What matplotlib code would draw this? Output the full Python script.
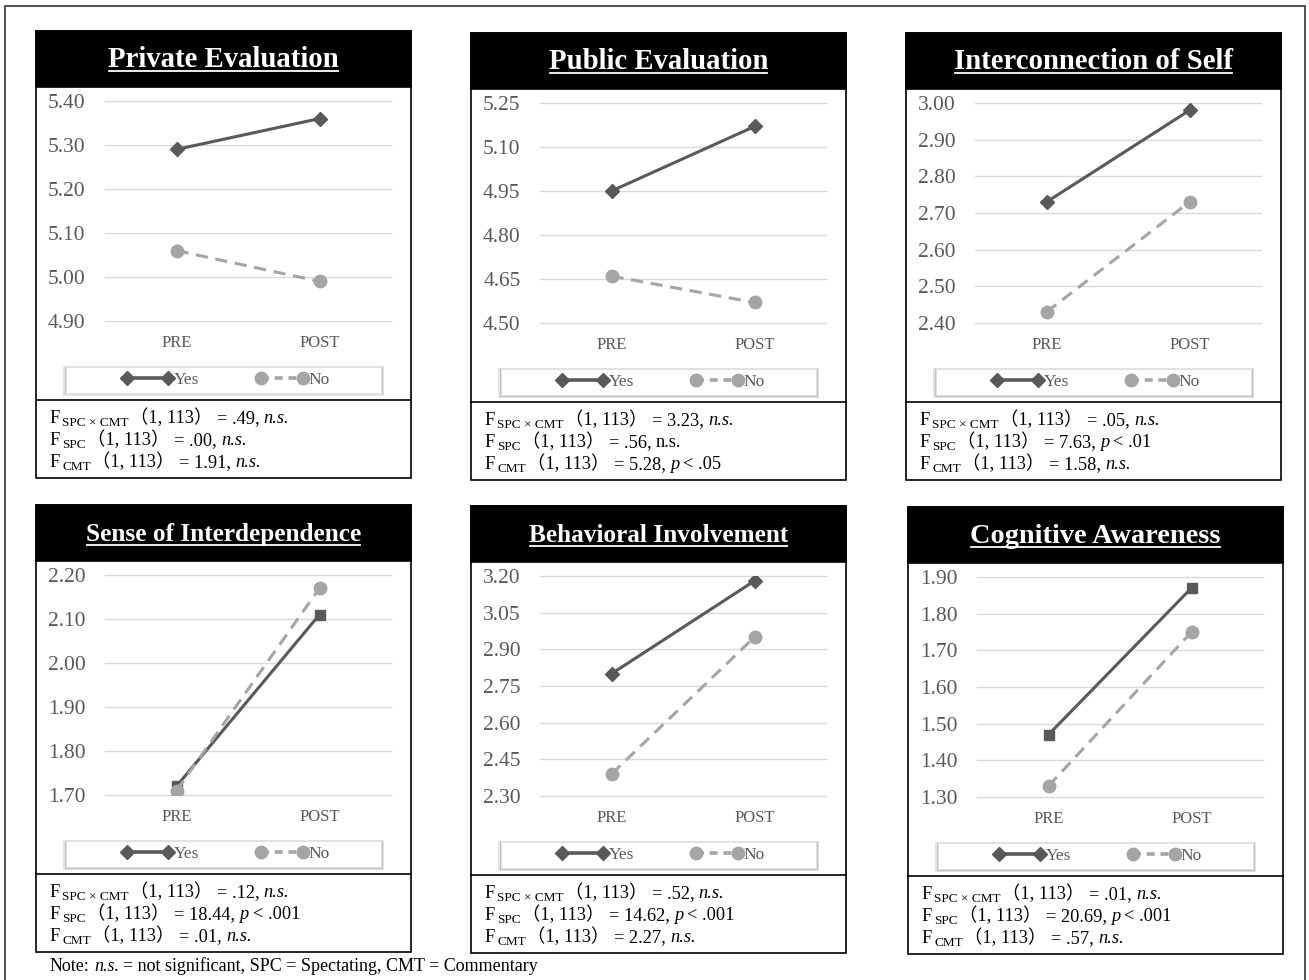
import matplotlib
matplotlib.use("Agg")
import matplotlib.pyplot as plt
from matplotlib.patches import Rectangle
from matplotlib.lines import Line2D
import numpy as np

TITLES = ["Private Evaluation", "Public Evaluation", "Interconnection of Self",
          "Sense of Interdependence", "Behavioral Involvement", "Cognitive Awareness"]
PHASES = ["PRE", "POST"]
GROUPS = ["Yes", "No"]
YES = [[5.29, 5.36], [4.95, 5.17], [2.73, 2.98],
       [1.72, 2.11], [2.80, 3.18], [1.47, 1.87]]
NO = [[5.06, 4.99], [4.66, 4.57], [2.43, 2.73],
      [1.71, 2.17], [2.39, 2.95], [1.33, 1.75]]
Y_MIN = [4.90, 4.50, 2.40, 1.70, 2.30, 1.30]
Y_MAX = [5.40, 5.25, 3.00, 2.20, 3.20, 1.90]
Y_STEP = [0.10, 0.15, 0.10, 0.10, 0.15, 0.10]

EFFECTS = ["SPC \u00d7 CMT", "SPC", "CMT"]
F_VALUES = [[".49", ".00", "1.91"], ["3.23", ".56", "5.28"], [".05", "7.63", "1.58"],
            [".12", "18.44", ".01"], [".52", "14.62", "2.27"], [".01", "20.69", ".57"]]
SIG = [["n.s.", "n.s.", "n.s."], ["n.s.", "n.s.", "p < .05"],
       ["n.s.", "p < .01", "n.s."], ["n.s.", "p < .001", "n.s."],
       ["n.s.", "p < .001", "n.s."], ["n.s.", "p < .001", "n.s."]]
UPRIGHT = {(1, 1)}  # the one "n.s." set in roman type

NOTE = ["Note:", "n.s.", "= not significant, SPC = Spectating, CMT = Commentary"]

# layout, in pixels of the 1309 x 980 canvas (top-left origin)
W, H = 1309, 980
PANELS = [(36, 31), (471, 33), (906, 33), (36, 505), (471, 506), (908, 507)]
TITLE_SIZE = [20.7, 20.7, 20.7, 18.2, 18.2, 20.4]
YES_MARKER = ["D", "D", "D", "s", "D", "s"]
PW = 375

DARK = "#595959"
LIGHT = "#A5A5A5"
GRID = "#D9D9D9"
SERIF = ["Liberation Serif", "DejaVu Serif"]
PAREN = ["Liberation Serif", "Noto Sans CJK JP"]

fig = plt.figure(figsize=(W / 100, H / 100), dpi=100)
renderer = fig.canvas.get_renderer()


def fx(x):
    return x / W


def fy(y):
    return 1 - y / H


def rect(x0, y0, x1, y1, **kw):
    fig.add_artist(Rectangle((fx(x0), fy(y1)), (x1 - x0) / W, (y1 - y0) / H,
                             transform=fig.transFigure, **kw))


def hline(x0, x1, y, **kw):
    fig.add_artist(Line2D([fx(x0), fx(x1)], [fy(y), fy(y)],
                          transform=fig.transFigure, **kw))


def put(x, y, s, size, style="normal", family=SERIF, color="black"):
    t = fig.text(fx(x), fy(y), s, fontsize=size, fontstyle=style, family=family,
                 color=color, ha="left", va="baseline")
    return x + t.get_window_extent(renderer).width


# legend keys are drawn the same way in every panel
KEYS = [Line2D([], [], color=DARK, linewidth=2.6, marker="D", markersize=7),
        Line2D([], [], color=LIGHT, linewidth=2.6, linestyle=(0, (2.2, 1.6)),
               marker="o", markersize=9)]

# outer frame (bottom edge falls off the canvas)
rect(5, 6, 1305, 990, fill=False, edgecolor="#333333", linewidth=1.2)

for k, (left, top) in enumerate(PANELS):
    # panel frame, title band, separator
    rect(left, top, left + PW, top + 447, facecolor="white", edgecolor="black",
         linewidth=1.2, zorder=0)
    rect(left, top, left + PW, top + 56, facecolor="black", edgecolor="black",
         linewidth=1.2)
    hline(left, left + PW, top + 369, color="black", linewidth=1.2)

    t = fig.text(fx(left + PW / 2), fy(top + 36), TITLES[k], color="white",
                 fontsize=TITLE_SIZE[k], fontweight="bold", family=SERIF,
                 ha="center", va="baseline")
    bb = t.get_window_extent(renderer)
    hline(bb.x0 + 1, bb.x1 - 1, top + 40, color="white", linewidth=1.3)

    # legend box with a soft shadow
    lx0, lx1, ly0, ly1 = left + 30, left + 345, top + 336, top + 362
    rect(lx0 - 3, ly0 - 1, lx1 + 3, ly1 + 3, facecolor="#BFBFBF", edgecolor="none",
         alpha=0.45)
    rect(lx0 - 1.5, ly0, lx1 + 1.5, ly1 + 1.5, facecolor="#A6A6A6", edgecolor="none",
         alpha=0.5)
    rect(lx0, ly0, lx1, ly1, facecolor="white", edgecolor="#E0E0E0", linewidth=0.6)

    # chart
    ax = fig.add_axes([fx(left + 69), fy(top + 290), 286 / W, 220 / H])
    ax.set_zorder(3)
    ax.set_facecolor("none")
    x = np.arange(len(PHASES))
    ax.plot(x, YES[k], color=DARK, linewidth=2.2, marker=YES_MARKER[k],
            markersize=7, label=GROUPS[0], zorder=3)
    ax.plot(x, NO[k], color=LIGHT, linewidth=2.2, linestyle=(0, (4, 2.5)),
            marker="o", markersize=9, label=GROUPS[1], zorder=4)
    ax.set_xlim(-0.5, 1.5)
    ax.set_ylim(Y_MIN[k], Y_MAX[k])
    ax.set_yticks(np.arange(Y_MIN[k], Y_MAX[k] + Y_STEP[k] / 2, Y_STEP[k]))
    ax.yaxis.set_major_formatter(plt.FormatStrFormatter("%.2f"))
    ax.set_xticks(x)
    ax.set_xticklabels(PHASES)
    for s in ax.spines.values():
        s.set_visible(False)
    ax.grid(axis="y", color=GRID, linewidth=1.0)
    for gl in ax.get_ygridlines():
        gl.set_clip_on(False)
    ax.set_axisbelow(True)
    ax.tick_params(axis="y", length=0, pad=14, labelsize=15.5, labelcolor=DARK)
    ax.tick_params(axis="x", length=0, pad=10, labelsize=12, labelcolor=DARK)
    for lab in ax.get_xticklabels() + ax.get_yticklabels():
        lab.set_family(SERIF)

    ax.legend(KEYS, GROUPS, loc="center",
              bbox_to_anchor=(fx((lx0 + lx1) / 2 + 2), fy((ly0 + ly1) / 2)),
              bbox_transform=fig.transFigure, ncol=2, frameon=False, numpoints=2,
              handlelength=3.0, handletextpad=0.0, columnspacing=3.3,
              prop={"family": SERIF, "size": 12.5}, labelcolor=DARK)

    # ANOVA lines
    for i in range(3):
        y = top + 392 + 22 * i
        xx = put(left + 13, y, "F", 13.2)
        xx = put(xx + 3, y + 3, EFFECTS[i], 9.5)
        xx = put(xx + 1, y, "\uff081, 113\uff09", 13.2, family=PAREN)
        xx = put(xx + 5, y, "= " + F_VALUES[k][i] + ",", 13.2)
        sig = SIG[k][i]
        if sig.startswith("p"):
            xx = put(xx + 4, y, "p", 13.2, style="italic")
            put(xx + 4, y, sig[2:], 13.2)
        else:
            put(xx + 4, y, sig, 13.2,
                style="normal" if (k, i) in UPRIGHT else "italic")

xx = put(50, 971, NOTE[0], 13)
xx = put(xx + 4, 971, NOTE[1], 13, style="italic")
put(xx + 4, 971, NOTE[2], 13)

fig.savefig("out.png", dpi=100)
